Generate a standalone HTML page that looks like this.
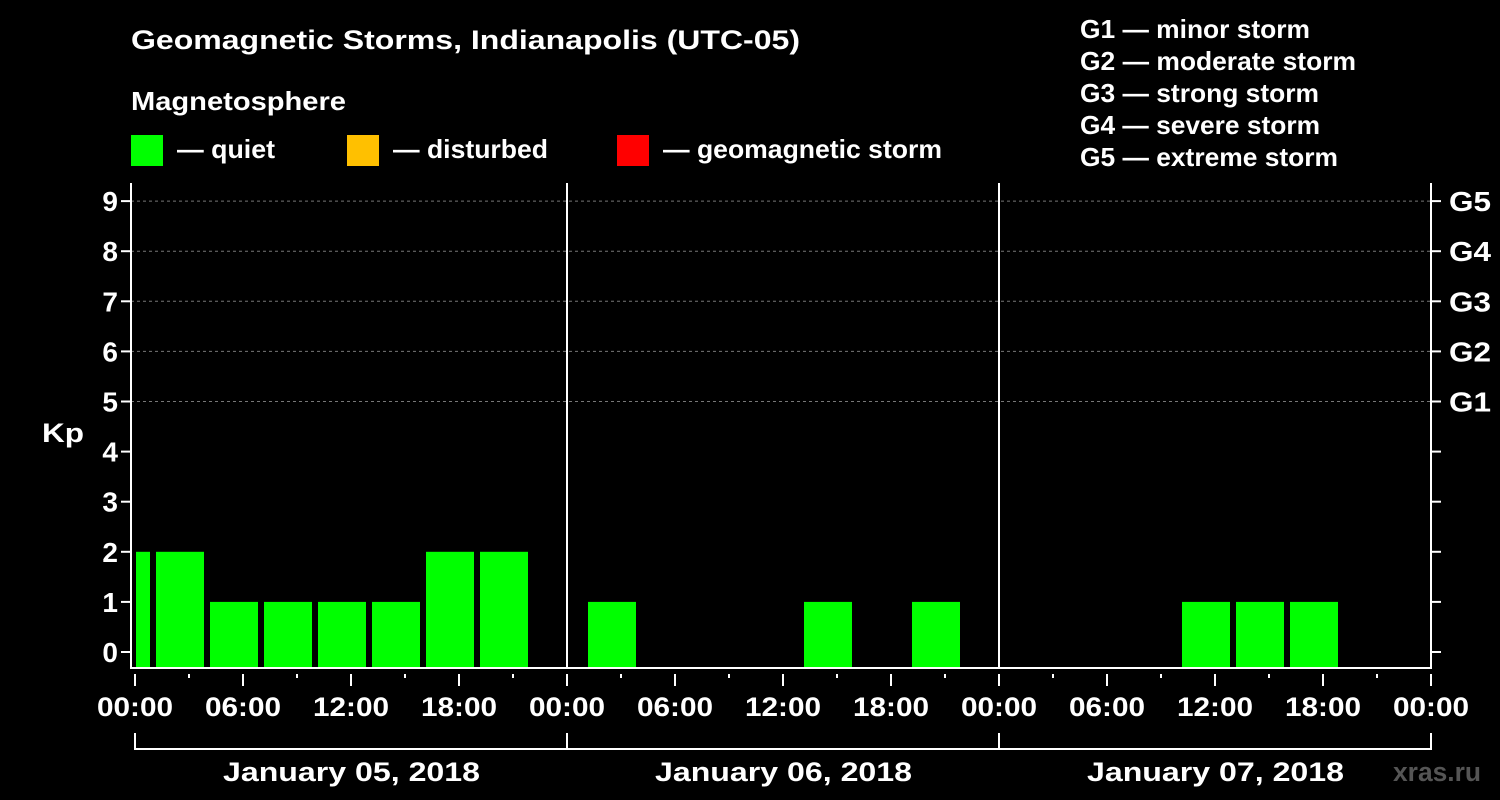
<!DOCTYPE html>
<html><head><meta charset="utf-8"><style>
body{margin:0;background:#000;width:1500px;height:800px;overflow:hidden}
svg{display:block;font-family:"Liberation Sans",Arial,sans-serif;font-weight:bold}
</style></head><body>
<svg id="c" width="1500" height="800" xmlns="http://www.w3.org/2000/svg">
<text x="131" y="49" fill="#fff" font-size="27" textLength="669" lengthAdjust="spacingAndGlyphs">Geomagnetic Storms, Indianapolis (UTC-05)</text>
<text x="131" y="110" fill="#fff" font-size="26" textLength="215" lengthAdjust="spacingAndGlyphs">Magnetosphere</text>
<g><rect x="131" y="135" width="32" height="31" fill="#00ff00"/><text x="177" y="158" fill="#fff" font-size="26" textLength="98" lengthAdjust="spacingAndGlyphs">— quiet</text></g>
<g><rect x="347" y="135" width="32" height="31" fill="#ffc000"/><text x="393" y="158" fill="#fff" font-size="26" textLength="155" lengthAdjust="spacingAndGlyphs">— disturbed</text></g>
<g><rect x="617" y="135" width="32" height="31" fill="#ff0000"/><text x="663" y="158" fill="#fff" font-size="26" textLength="279" lengthAdjust="spacingAndGlyphs">— geomagnetic storm</text></g>
<g fill="#fff" font-size="26" lengthAdjust="spacingAndGlyphs">
<text x="1080" y="38" textLength="230" lengthAdjust="spacingAndGlyphs">G1 — minor storm</text>
<text x="1080" y="70" textLength="276" lengthAdjust="spacingAndGlyphs">G2 — moderate storm</text>
<text x="1080" y="102" textLength="239" lengthAdjust="spacingAndGlyphs">G3 — strong storm</text>
<text x="1080" y="134" textLength="240" lengthAdjust="spacingAndGlyphs">G4 — severe storm</text>
<text x="1080" y="166" textLength="258" lengthAdjust="spacingAndGlyphs">G5 — extreme storm</text>
</g>
<text x="42" y="442" fill="#fff" font-size="27" textLength="42" lengthAdjust="spacingAndGlyphs">Kp</text>
<text x="1393" y="781" fill="#555" font-size="27" textLength="88" lengthAdjust="spacingAndGlyphs">xras.ru</text>
<g id="grid"></g><g id="bars"></g><g id="axes"></g>
</svg>
<script>
const days = ["January 05, 2018","January 06, 2018","January 07, 2018"];
const timeLabels = ["00:00","06:00","12:00","18:00"];
const yTicks = [0,1,2,3,4,5,6,7,8,9];
const gLabels = ["G1","G2","G3","G4","G5"];
// Kp bars: start hour (local, from Jan 5 00:00), value
const barStarts = [-2,1,4,7,10,13,16,19,22,25,28,31,34,37,40,43,46,49,52,55,58,61,64,67,70];
const kpValues  = [2,2,1,1,1,1,2,2,0,1,0,0,0,1,0,1,0,0,0,0,1,1,1,0,0];
const NS="http://www.w3.org/2000/svg";
const X0=135, PXH=18, L=131, R=1431, T=183, B=668;
const xs=h=>X0+h*PXH;
const ys=v=>652-v*50.1;
function mk(tag,attrs,parent){const e=document.createElementNS(NS,tag);for(const k in attrs)e.setAttribute(k,attrs[k]);parent.appendChild(e);return e;}
const grid=document.getElementById('grid'),bars=document.getElementById('bars'),axes=document.getElementById('axes');
[5,6,7,8,9].forEach(v=>{const l=mk('line',{x1:L,x2:R,y1:ys(v),y2:ys(v),stroke:'#777','stroke-dasharray':'3,3','stroke-width':1},grid);

});
barStarts.forEach((h,i)=>{const v=kpValues[i];if(v<=0)return;
let x1=xs(h)+3,x2=xs(h)+51;x1=Math.max(x1,L+5);x2=Math.min(x2,R);
const c=v>=5?'#ff0000':(v>=4?'#ffc000':'#00ff00');
const r=mk('rect',{x:x1,y:ys(v),width:x2-x1,height:B-ys(v),fill:c},bars);

});
const fr=mk('path',{d:`M${L},${T}V${B}H${R}V${T}`,fill:'none',stroke:'#fff','stroke-width':2},axes);


[1,2].forEach(d=>{const l=mk('line',{x1:xs(24*d),x2:xs(24*d),y1:T,y2:B,stroke:'#fff','stroke-width':2},axes);

});
yTicks.forEach(v=>{mk('line',{x1:L-10,x2:L,y1:ys(v),y2:ys(v),stroke:'#fff','stroke-width':2},axes);
mk('line',{x1:R,x2:R+10,y1:ys(v),y2:ys(v),stroke:'#fff','stroke-width':2},axes);
const t=mk('text',{x:L-13,y:ys(v)+10,fill:'#fff','font-size':28,'text-anchor':'end'},axes);t.textContent=v;

});
gLabels.forEach((g,i)=>{const t=mk('text',{x:R+18,y:ys(5+i)+10,fill:'#fff','font-size':28,textLength:42,lengthAdjust:'spacingAndGlyphs'},axes);t.textContent=g;

});
for(let h=0;h<=72;h+=3){const major=h%6===0;
mk('line',{x1:xs(h),x2:xs(h),y1:674,y2:major?686:678,stroke:'#fff','stroke-width':2},axes);
if(major){const t=mk('text',{x:xs(h)-38,y:716,fill:'#fff','font-size':27,textLength:76,lengthAdjust:'spacingAndGlyphs'},axes);t.textContent=timeLabels[(h/6)%4];

}}
days.forEach((d,i)=>{const a=xs(24*i),b=xs(24*i+24);
mk('path',{d:`M${a},733V749H${b}V733`,fill:'none',stroke:'#fff','stroke-width':2},axes);
const t=mk('text',{x:(a+b)/2-128,y:781,fill:'#fff','font-size':27,textLength:257,lengthAdjust:'spacingAndGlyphs'},axes);t.textContent=d;

});
</script>
</body></html>
